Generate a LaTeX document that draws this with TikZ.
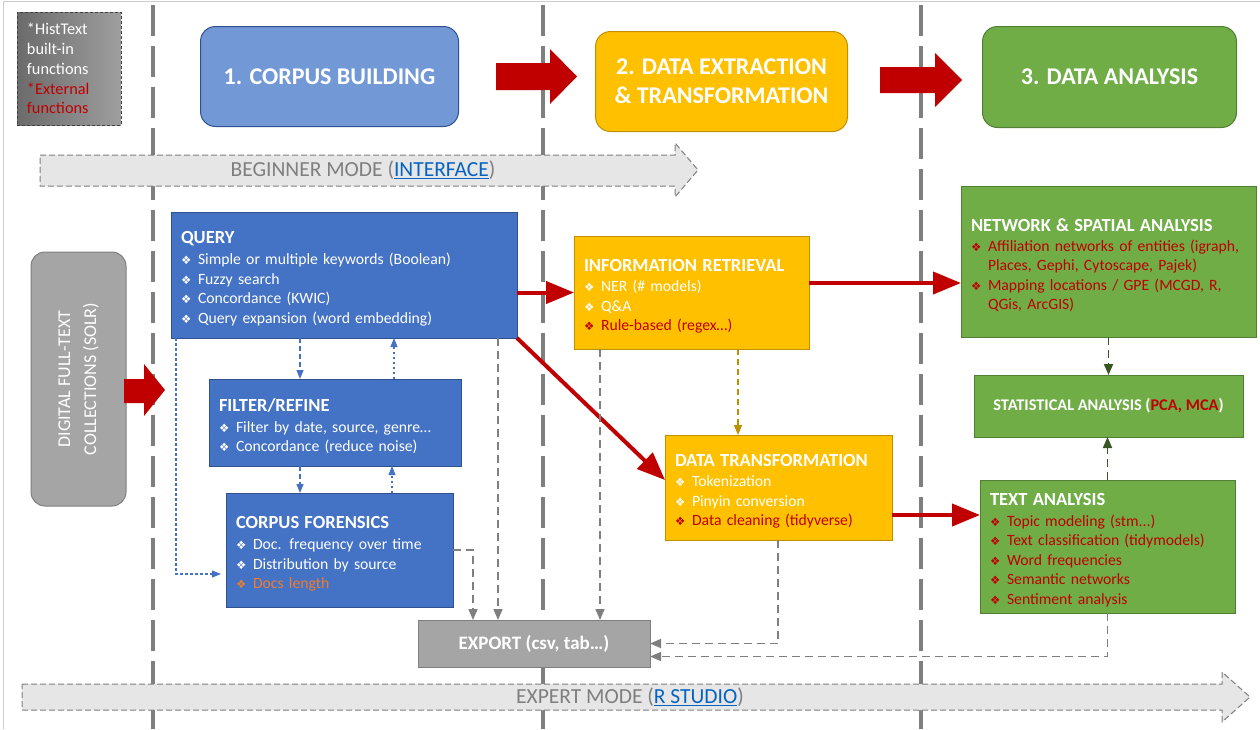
\documentclass[tikz,border=0pt]{standalone}
\usepackage{fontspec}
\setmainfont{Carlito}
\newfontfamily\symfont{DejaVu Sans}
\usetikzlibrary{arrows.meta}

\definecolor{qblue}{HTML}{4472C4}
\definecolor{qblueline}{HTML}{2F528F}
\definecolor{hblue}{HTML}{7298D5}
\definecolor{gold}{HTML}{FFC000}
\definecolor{goldline}{HTML}{BF9000}
\definecolor{leaf}{HTML}{70AD47}
\definecolor{leafline}{HTML}{507E32}
\definecolor{darkleaf}{HTML}{375623}
\definecolor{stone}{HTML}{A5A5A5}
\definecolor{stoneline}{HTML}{7F7F7F}
\definecolor{exred}{HTML}{C00000}
\definecolor{orng}{HTML}{ED7D31}
\definecolor{modefill}{HTML}{E7E6E6}
\definecolor{linkblue}{HTML}{0563C1}

\newcommand{\bul}[1][white]{\makebox[17pt][l]{\color{#1}\symfont\fontsize{11.5}{12}\selectfont\char"2756}}
\newcommand{\ext}[1]{\textcolor{exred}{#1}}
\newcommand{\ttl}[1]{{\rule{0pt}{20pt}\bfseries\fontsize{18.5}{19.5}\selectfont #1}}

\begin{document}
\begin{tikzpicture}[x=1pt, y=-1pt]
    % Define styles
    \tikzstyle{separator} = [stoneline, line width=3.5pt, dash pattern=on 31pt off 10pt]
    \tikzstyle{box} = [draw, line width=1pt, anchor=north west, inner xsep=10pt, inner ysep=0pt, outer sep=0pt,
                       align=left, text=white, font=\fontsize{15.7}{19.5}\selectfont]
    \tikzstyle{bluebox} = [box, fill=qblue, draw=qblueline]
    \tikzstyle{goldbox} = [box, fill=gold, draw=goldline]
    \tikzstyle{greenbox} = [box, fill=leaf, draw=leafline]
    \tikzstyle{header} = [rounded corners=15pt, line width=1pt, anchor=north west, align=center, text=white,
                          font=\bfseries\fontsize{24}{29}\selectfont]
    \tikzstyle{legendbox} = [box, draw=black!75, dash pattern=on 3pt off 2pt, left color=black!58, right color=black!38,
                             text width=84pt, minimum height=113pt, font=\fontsize{16.3}{19.8}\selectfont]
    \tikzstyle{modearrow} = [draw=stoneline, fill=modefill, line width=1pt, dash pattern=on 6pt off 3pt]
    \tikzstyle{modetext} = [text=stoneline, font=\fontsize{21.5}{22}\selectfont]
    \tikzstyle{redarrow} = [exred, line width=4pt, -{Triangle[length=28pt,width=22pt]}]
    \tikzstyle{bluedash} = [qblue, line width=1.2pt, dash pattern=on 5pt off 3pt, -{Triangle[length=9pt,width=7pt]}]
    \tikzstyle{bluedot} = [qblue, line width=1.1pt, dash pattern=on 2.5pt off 2.5pt, -{Triangle[length=9pt,width=7pt]}]
    \tikzstyle{graydash} = [stoneline, line width=1.6pt, dash pattern=on 8pt off 5pt, -{Triangle[length=11pt,width=9pt]}]
    \tikzstyle{golddash} = [goldline, line width=1.6pt, dash pattern=on 6pt off 4pt, -{Triangle[length=10pt,width=8pt]}]
    \tikzstyle{greendash} = [darkleaf, line width=1.8pt, dash pattern=on 8pt off 5pt, -{Triangle[length=11pt,width=9pt]}]

    \useasboundingbox (0,0) rectangle (1260,729);

    % Frame and phase separators
    \draw[black!20, line width=1pt] (3,729) -- (3,1) -- (1260,1);
    \foreach \x in {153,543,921}
        \draw[separator] (\x,5) -- (\x,729);

    % Legend
    \node[legendbox] (legend) at (17,12) {*HistText\\built-in\\functions\\\ext{*External}\\\ext{functions}};

    % Phase headers
    \node[header, fill=hblue, draw=qblueline, minimum width=258pt, minimum height=100pt] (corpus) at (200,26) {1. CORPUS BUILDING};
    \node[header, fill=gold, draw=goldline, minimum width=252pt, minimum height=100pt] (extract) at (595,31) {2. DATA EXTRACTION\\\& TRANSFORMATION};
    \node[header, fill=leaf, draw=leafline, minimum width=254pt, minimum height=101pt] (analysis) at (982,26) {3. DATA ANALYSIS};
    \fill[exred] (496,63) -- (550,63) -- (550,49) -- (577,76.5) -- (550,104) -- (550,90) -- (496,90) -- cycle;
    \fill[exred] (880,67) -- (935,67) -- (935,53) -- (962,80) -- (935,107) -- (935,93) -- (880,93) -- cycle;

    % Modes
    \draw[modearrow] (40,155) -- (675,155) -- (675,143) -- (698,170) -- (675,197) -- (675,186) -- (40,186) -- cycle;
    \node[modetext] (beginner) at (363,170) {BEGINNER MODE (\textcolor{linkblue}{\underline{INTERFACE}})};
    \draw[modearrow] (22,684) -- (1222,684) -- (1222,672) -- (1250,697) -- (1222,722) -- (1222,710) -- (22,710) -- cycle;
    \node[modetext] (expert) at (630,697) {EXPERT MODE (\textcolor{linkblue}{\underline{R STUDIO}})};

    % Source collections
    \node[rotate=90, rounded corners=14pt, fill=stone, draw=stoneline, line width=1pt, minimum width=254pt,
          minimum height=95pt, align=center, text=white, font=\fontsize{18}{26}\selectfont] (colls) at (78.5,379)
          {DIGITAL FULL-TEXT\\COLLECTIONS (SOLR)};
    \fill[exred] (124,379) -- (144,379) -- (144,364) -- (165,390) -- (144,416) -- (144,403) -- (124,403) -- cycle;

    % Corpus building
    \node[bluebox, text width=326pt, minimum height=126pt] (query) at (171,212) {\ttl{QUERY}\\[1.5pt]
        \bul Simple or multiple keywords (Boolean)\\
        \bul Fuzzy search\\
        \bul Concordance (KWIC)\\
        \bul Query expansion (word embedding)};
    \node[bluebox, text width=232pt, minimum height=87pt] (filter) at (209,379) {\ttl{FILTER/REFINE}\\[1.5pt]
        \bul Filter by date, source, genre…\\
        \bul Concordance (reduce noise)};
    \node[bluebox, text width=207pt, minimum height=114pt] (forensics) at (226,493) {\ttl{CORPUS FORENSICS}\\[1.5pt]
        \bul Doc. frequency over time\\
        \bul Distribution by source\\
        \bul[orng]\textcolor{orng}{Docs length}};

    % Data extraction & transformation
    \node[goldbox, text width=215pt, minimum height=113pt] (inforet) at (574,236) {\ttl{INFORMATION RETRIEVAL}\\[1pt]
        \bul NER (\# models)\\
        \bul Q\&A\\
        \bul[exred]\ext{Rule-based (regex…)}};
    \node[goldbox, text width=207pt, minimum height=105pt] (datatrans) at (665,435) {\ttl{DATA TRANSFORMATION}\\[1pt]
        \bul Tokenization\\
        \bul Pinyin conversion\\
        \bul[exred]\ext{Data cleaning (tidyverse)}};

    % Data analysis
    \node[greenbox, text width=275pt, minimum height=151pt] (network) at (961,186) {\ttl{NETWORK \& SPATIAL ANALYSIS}\\[0.5pt]
        \bul[exred]\ext{Affiliation networks of entities (igraph,}\\
        \hspace*{17pt}\ext{Places, Gephi, Cytoscape, Pajek)}\\
        \bul[exred]\ext{Mapping locations / GPE (MCGD, R,}\\
        \hspace*{17pt}\ext{QGis, ArcGIS)}};
    \node[greenbox, align=center, minimum width=269pt, minimum height=62pt, font=\bfseries\fontsize{16.3}{18}\selectfont] (stat)
        at (974,375) {STATISTICAL ANALYSIS (\ext{PCA, MCA})};
    \node[greenbox, text width=235pt, minimum height=133pt] (textan) at (980,480) {\ttl{TEXT ANALYSIS}\\[1pt]
        \bul[exred]\ext{Topic modeling (stm...)}\\
        \bul[exred]\ext{Text classification (tidymodels)}\\
        \bul[exred]\ext{Word frequencies}\\
        \bul[exred]\ext{Semantic networks}\\
        \bul[exred]\ext{Sentiment analysis}};

    % Export
    \node[box, fill=stone, draw=stoneline, align=center, minimum width=232pt, minimum height=47pt,
          font=\bfseries\fontsize{19}{20}\selectfont] (export) at (418,620) {EXPORT (csv, tab…)};

    % Main flow
    \draw[redarrow] (query.east |- inforet.west) -- (inforet.west);
    \draw[redarrow] (query.south east) -- ([yshift=-45pt]datatrans.north west);
    \coordinate (irout) at ([yshift=9.5pt]inforet.east);
    \draw[redarrow] (irout) -- (irout -| network.west);
    \coordinate (dtout) at ([yshift=-27.5pt]datatrans.east);
    \draw[redarrow] (dtout) -- (dtout -| textan.west);

    % Corpus loops
    \coordinate (qf) at ([xshift=129pt]query.south west);
    \draw[bluedash] (qf) -- (qf |- filter.north);
    \coordinate (fq) at ([xshift=185pt]filter.north west);
    \draw[bluedot] (fq) -- (fq |- query.south);
    \coordinate (ff) at ([xshift=91pt]filter.south west);
    \draw[bluedash] (ff) -- (ff |- forensics.north);
    \coordinate (fb) at ([xshift=166pt]forensics.north west);
    \draw[bluedot] (fb) -- (fb |- filter.south);
    \coordinate (qd) at ([xshift=5pt]query.south west);
    \coordinate (fin) at ([yshift=-24pt]forensics.west);
    \draw[bluedot] (qd) |- ([xshift=-5pt]fin);

    % To export
    \draw[graydash] (forensics.east) -| ([xshift=55pt]export.north west);
    \coordinate (qe) at ([xshift=-19pt]query.south east);
    \draw[graydash] (qe) -- (qe |- export.north);
    \coordinate (ie) at ([xshift=26pt]inforet.south west);
    \draw[graydash] (ie) -- (ie |- export.north);
    \coordinate (de) at ([xshift=113pt]datatrans.south west);
    \draw[graydash] (de) |- (export.east);
    \draw[graydash] (textan.south) |- ([yshift=-13pt]export.east);

    % Inner links
    \coordinate (it) at ([xshift=164pt]inforet.south west);
    \draw[golddash] (it) -- (it |- datatrans.north);
    \draw[greendash] (network.south) -- (stat.north);
    \draw[greendash] (textan.north) -- (textan.north |- stat.south);
\end{tikzpicture}
\end{document}
